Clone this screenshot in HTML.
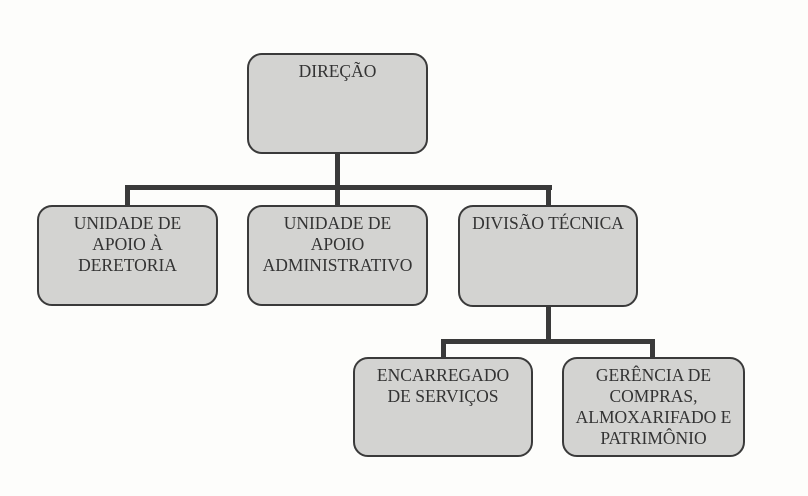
<!DOCTYPE html>
<html><head><meta charset="utf-8"><style>
body{margin:0;width:808px;height:496px;background:#fdfdfb;position:relative;overflow:hidden;font-family:"Liberation Serif",serif;}
.b{position:absolute;box-sizing:border-box;background:#d3d3d1;border:2px solid #3a3a3a;border-radius:15px;text-align:center;color:#333;font-size:17.5px;line-height:21px;padding-top:6px;white-space:nowrap;}
.l{position:absolute;background:#3a3a3a;}
</style></head><body>
<div class="l" style="left:125px;top:185px;width:427px;height:5px"></div>
<div class="l" style="left:335px;top:152px;width:5px;height:55px"></div>
<div class="l" style="left:125px;top:185px;width:5px;height:22px"></div>
<div class="l" style="left:546px;top:185px;width:5px;height:22px"></div>
<div class="l" style="left:546px;top:305px;width:5px;height:38px"></div>
<div class="l" style="left:441px;top:339px;width:214px;height:5px"></div>
<div class="l" style="left:441px;top:339px;width:5px;height:20px"></div>
<div class="l" style="left:650px;top:339px;width:5px;height:20px"></div>
<div class="b" style="left:247px;top:53px;width:181px;height:101px">DIREÇÃO</div>
<div class="b" style="left:37px;top:205px;width:181px;height:101px">UNIDADE DE<br>APOIO À<br>DERETORIA</div>
<div class="b" style="left:247px;top:205px;width:181px;height:101px">UNIDADE DE<br>APOIO<br>ADMINISTRATIVO</div>
<div class="b" style="left:458px;top:205px;width:180px;height:102px">DIVISÃO TÉCNICA</div>
<div class="b" style="left:353px;top:357px;width:180px;height:100px">ENCARREGADO<br>DE SERVIÇOS</div>
<div class="b" style="left:562px;top:357px;width:183px;height:100px">GERÊNCIA DE<br>COMPRAS,<br>ALMOXARIFADO E<br>PATRIMÔNIO</div>
</body></html>
